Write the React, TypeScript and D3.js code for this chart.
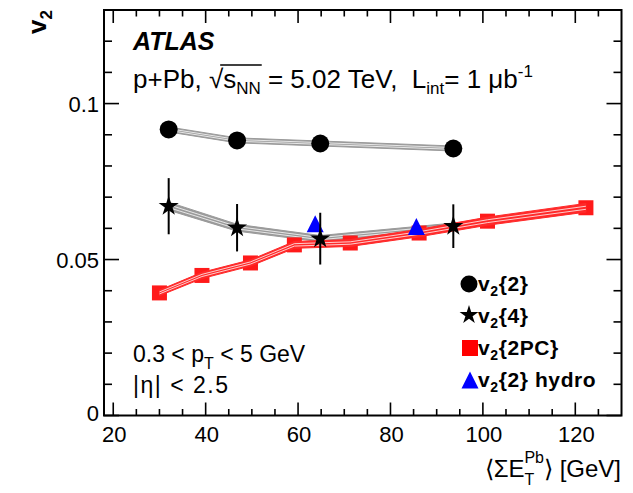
import React, { useLayoutEffect, useRef, useState } from "react";
import * as d3 from "d3";

// ---- data ----
const eTCumulant = [32.0, 46.8, 64.8, 93.6];
const v2Two = [0.0917, 0.0882, 0.0872, 0.0856];
const v2TwoSys = [0.0008, 0.0008, 0.0008, 0.0008];
const v2Four = [0.0671, 0.0602, 0.0567, 0.0607];
const v2FourErr = [0.009, 0.0076, 0.0083, 0.007];
const v2FourSys = [0.0013, 0.0011, 0.0010, 0.0010];
const eT2PC = [30.0, 39.2, 49.7, 59.2, 71.3, 86.2, 101.0, 122.3];
const v2TwoPC = [0.0393, 0.0449, 0.0489, 0.0547, 0.0553, 0.0585, 0.0623, 0.0666];
const v2TwoPCSys = [0.0009, 0.0010, 0.0010, 0.0011, 0.0011, 0.0012, 0.0013, 0.0014];
const eTHydro = [63.7, 85.6];
const v2Hydro = [0.0615, 0.0606];
const xMajorTicks = [20, 40, 60, 80, 100, 120];
const yMajorTicks = [0, 0.05, 0.1];
const yTickLabels = ["0", "0.05", "0.1"];
const legendLabels = ["{2}", "{4}", "{2PC}", "{2} hydro"];

const W = 633;
const H = 493;
const FONT = "'Liberation Sans', Arial, Helvetica, sans-serif";

export default function App() {
  const left = 104, right = 621.5, top = 10, bottom = 415.5;
  const x = d3.scaleLinear().domain([18, 130]).range([left, right]);
  const y = d3.scaleLinear().domain([0, 0.13]).range([bottom, top]);

  const sRef = useRef<SVGTSpanElement>(null);
  const nnRef = useRef<SVGTSpanElement>(null);
  const [bar, setBar] = useState<[number, number] | null>(null);
  useLayoutEffect(() => {
    try {
      const s = sRef.current!, nn = nnRef.current!;
      const a = s.getStartPositionOfChar(0).x;
      const b = nn.getEndPositionOfChar(nn.getNumberOfChars() - 1).x;
      setBar([a - 3, b + 1]);
    } catch (e) {
      setBar([222, 268]);
    }
  }, []);

  const xMinor = d3.range(20, 130, 5).filter((v) => !xMajorTicks.includes(v));
  const yMinor = d3.range(1, 13).map((i) => i / 100).filter((v) => Math.abs(v - 0.05) > 1e-6 && Math.abs(v - 0.1) > 1e-6);

  const line = d3.line<[number, number]>().x((d) => d[0]).y((d) => d[1]);

  const band = (xs: number[], vs: number[], ss: number[], fill: string, key: string) => {
    const upper = xs.map((xv, i) => [x(xv), y(vs[i] + ss[i])] as [number, number]);
    const lower = xs.map((xv, i) => [x(xv), y(vs[i] - ss[i])] as [number, number]);
    const poly = upper.concat(lower.slice().reverse());
    const stripes = [-0.35, 0.35].map((f) =>
      xs.map((xv, i) => [x(xv), y(vs[i] + f * ss[i])] as [number, number])
    );
    return (
      <g key={key}>
        <path d={line(poly) + "Z"} fill={fill} stroke={fill} strokeWidth={1} />
        {stripes.map((s, k) => (
          <path key={k} d={line(s)!} fill="none" stroke="white" strokeWidth={0.9} opacity={0.85} />
        ))}
      </g>
    );
  };

  const star = d3.symbol().type(d3.symbolStar).size(125)();
  const starLeg = d3.symbol().type(d3.symbolStar).size(110)();
  const tri = (cx: number, cy: number, w: number, h: number) =>
    `M${cx - w / 2},${cy + h / 2}L${cx + w / 2},${cy + h / 2}L${cx},${cy - h / 2}Z`;

  const xMajLen = 13, xMinLen = 6.5, yMajLen = 15, yMinLen = 8;

  return (
    <svg width={W} height={H} style={{ position: "absolute", left: 0, top: 0, background: "white" }} fontFamily={FONT}>
      <rect x={0} y={0} width={W} height={H} fill="white" />
      {/* bands */}
      {band(eTCumulant, v2Two, v2TwoSys, "#9a9a9a", "b2")}
      {band(eTCumulant, v2Four, v2FourSys, "#9a9a9a", "b4")}
      {/* 2PC squares */}
      {eT2PC.map((e, i) => (
        <rect key={"sq" + i} x={x(e) - 7.5} y={y(v2TwoPC[i]) - 7.5} width={15} height={15} fill="#ff1a1a" />
      ))}
      {band(eT2PC, v2TwoPC, v2TwoPCSys, "#ff2a2a", "bpc")}
      {/* hydro triangles */}
      {eTHydro.map((e, i) => (
        <path key={"tr" + i} d={tri(x(e), y(v2Hydro[i]), 17, 17)} fill="#0000ff" />
      ))}
      {/* v2{2} circles */}
      {eTCumulant.map((e, i) => (
        <circle key={"c" + i} cx={x(e)} cy={y(v2Two[i])} r={9} fill="black" />
      ))}
      {/* v2{4} stars with error bars */}
      {eTCumulant.map((e, i) => (
        <g key={"s" + i}>
          <line x1={x(e)} x2={x(e)} y1={y(v2Four[i] + v2FourErr[i])} y2={y(v2Four[i] - v2FourErr[i])} stroke="black" strokeWidth={2} />
          <path d={star!} transform={`translate(${x(e)},${y(v2Four[i])})`} fill="black" />
        </g>
      ))}

      {/* frame */}
      <rect x={left} y={top} width={right - left} height={bottom - top} fill="none" stroke="black" strokeWidth={2} />
      {/* x ticks */}
      {xMajorTicks.map((t) => (
        <g key={"xt" + t}>
          <line x1={x(t)} x2={x(t)} y1={bottom} y2={bottom - xMajLen} stroke="black" strokeWidth={1.6} />
          <line x1={x(t)} x2={x(t)} y1={top} y2={top + xMajLen} stroke="black" strokeWidth={1.6} />
          <text x={x(t) + 1} y={442} fontSize={22} textAnchor="middle">{t}</text>
        </g>
      ))}
      {xMinor.map((t) => (
        <g key={"xm" + t}>
          <line x1={x(t)} x2={x(t)} y1={bottom} y2={bottom - xMinLen} stroke="black" strokeWidth={1.6} />
          <line x1={x(t)} x2={x(t)} y1={top} y2={top + xMinLen} stroke="black" strokeWidth={1.6} />
        </g>
      ))}
      {/* y ticks */}
      {yMajorTicks.map((t, i) => (
        <g key={"yt" + t}>
          <line x1={left} x2={left + yMajLen} y1={y(t)} y2={y(t)} stroke="black" strokeWidth={1.6} />
          <line x1={right} x2={right - yMajLen} y1={y(t)} y2={y(t)} stroke="black" strokeWidth={1.6} />
          <text x={99} y={y(t) + 8 - (t === 0 ? 3 : 0)} fontSize={22} textAnchor="end">{yTickLabels[i]}</text>
        </g>
      ))}
      {yMinor.map((t) => (
        <g key={"ym" + t}>
          <line x1={left} x2={left + yMinLen} y1={y(t)} y2={y(t)} stroke="black" strokeWidth={1.6} />
          <line x1={right} x2={right - yMinLen} y1={y(t)} y2={y(t)} stroke="black" strokeWidth={1.6} />
        </g>
      ))}

      {/* axis titles */}
      <text transform="translate(46,10) rotate(-90)" fontSize={26} fontWeight="bold" textAnchor="end">
        v<tspan fontSize={17} dy={6}>2</tspan>
      </text>
      <text x={621} y={477} fontSize={24} textAnchor="end">
        ⟨ΣE<tspan fontSize={16} dy={8}>T</tspan><tspan fontSize={16} dx={-10} dy={-22}>Pb</tspan><tspan dy={14}>⟩ [GeV]</tspan>
      </text>

      {/* header text */}
      <text x={133} y={50} fontSize={25} fontWeight="bold" fontStyle="italic">ATLAS</text>
      <text x={133} y={88} fontSize={26} style={{ whiteSpace: "pre" }}>
        p+Pb, √<tspan ref={sRef}>s</tspan><tspan ref={nnRef} fontSize={17} dy={6}>NN</tspan><tspan dy={-6}> = 5.02 TeV,  L</tspan><tspan fontSize={17} dy={6}>int</tspan><tspan dy={-6}>= 1 μb</tspan><tspan fontSize={17} dy={-11}>-1</tspan>
      </text>
      {bar && <line x1={bar[0]} x2={bar[1]} y1={65} y2={65} stroke="black" strokeWidth={1.5} />}

      {/* kinematic text */}
      <text x={133} y={362} fontSize={23}>
        0.3 &lt; p<tspan fontSize={16} dy={7}>T</tspan><tspan dy={-7}> &lt; 5 GeV</tspan>
      </text>
      <text x={133} y={393} fontSize={23} letterSpacing={1.5}>|η| &lt; 2.5</text>

      {/* legend */}
      <circle cx={469} cy={284} r={8.5} fill="black" />
      <path d={starLeg!} transform="translate(469,315)" fill="black" />
      <rect x={462} y={340} width={16} height={16} fill="#ff0000" />
      <path d={tri(470, 380, 17, 17)} fill="#0000ff" />
      {legendLabels.map((s, i) => (
        <text key={s} x={478} y={291 + i * 32} fontSize={21} fontWeight="bold" letterSpacing={0.6}>
          v<tspan fontSize={14} dy={5}>2</tspan><tspan dy={-5}>{s}</tspan>
        </text>
      ))}
    </svg>
  );
}
